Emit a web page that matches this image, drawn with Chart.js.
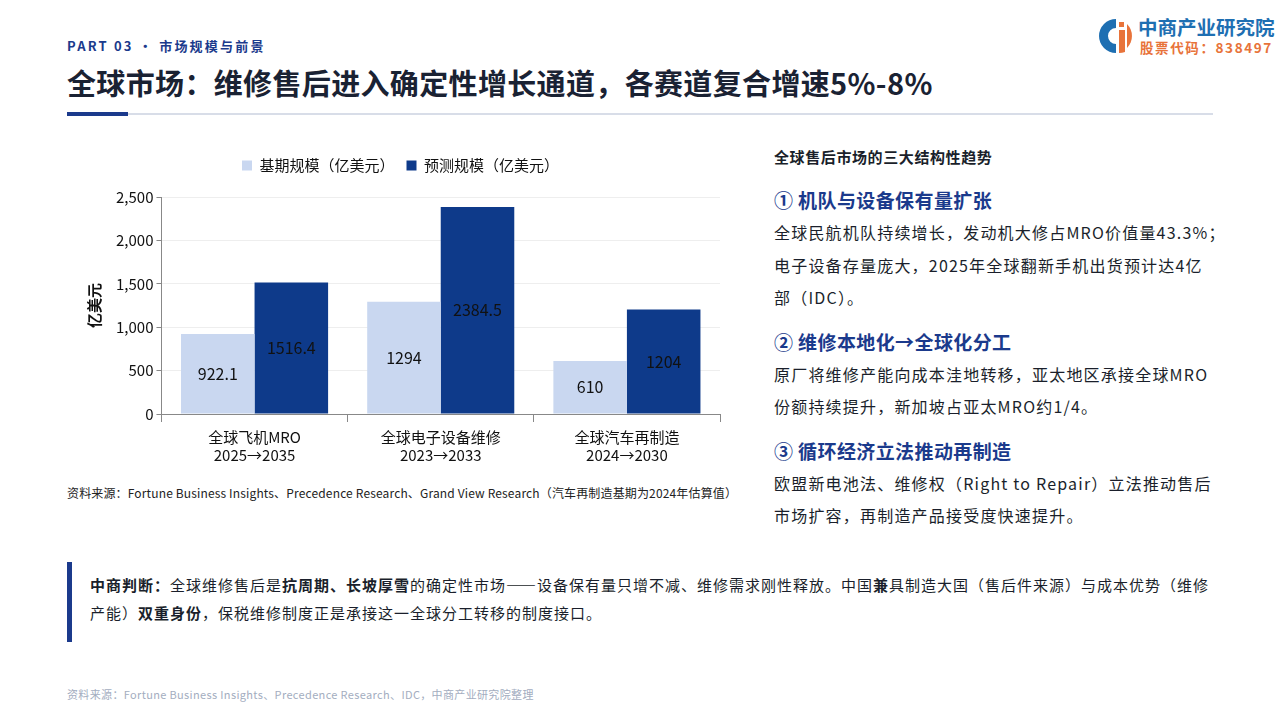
<!DOCTYPE html>
<html lang="zh-CN">
<head>
<meta charset="utf-8">
<script src="https://cdn.jsdelivr.net/npm/chart.js@4.4.1/dist/chart.umd.min.js"></script>
<style>
  html, body { margin: 0; padding: 0; background: #fff; }
  body { width: 1280px; height: 720px; position: relative; overflow: hidden;
         font-family: "Noto Sans CJK SC", "Noto Sans", sans-serif; color: #1a1f2b; }
  .abs { position: absolute; white-space: nowrap; }
  .part { left: 67px; top: 36px; font-size: 13px; font-weight: 700; color: #1b3a8c; letter-spacing: 2.2px; }
  .title { left: 67px; top: 61px; font-size: 29px; font-weight: 700; color: #1a2233; letter-spacing: 0.35px; }
  .rule { left: 67px; top: 113px; width: 1146px; height: 2px; background: #d8dde8; }
  .rule-accent { left: 67px; top: 112px; width: 61px; height: 4px; background: #1b3a8c; }
  .logo-t1 { left: 1138px; top: 14px; font-size: 19.5px; font-weight: 700; color: #1e6fb2; line-height: 26px; }
  .logo-t2 { left: 1140px; top: 38px; font-size: 13.5px; font-weight: 700; color: #e8733a; letter-spacing: 1.6px; line-height: 18px; }
  .chart-box { left: 60px; top: 146px; width: 672px; height: 324px; }
  .chart-src { left: 67px; top: 484px; font-size: 12px; color: #222; letter-spacing: 0.15px; }
  .panel { left: 774px; top: 145px; width: 460px; }
  .panel h4 { margin: 0 0 16px 0; font-size: 15px; font-weight: 700; color: #1a1f2b; letter-spacing: 0.6px; line-height: 24px; }
  .panel h3 { margin: 0; font-size: 19px; font-weight: 700; color: #1b3a8c; line-height: 30px; letter-spacing: 0.4px; }
  .panel p { margin: 1px 0 13px 0; font-size: 16px; line-height: 32.5px; color: #1a1f2b; letter-spacing: 1.2px; }
  .judge { left: 67px; top: 562px; width: 1146px; height: 80px; border-left: 5px solid #1b3a8c; }
  .judge p { margin: 9px 0 0 18px; font-size: 15px; line-height: 28px; color: #1a1f2b; letter-spacing: 1px; }
  .foot { left: 67px; top: 686px; font-size: 11px; color: #a3adc0; letter-spacing: 0.35px; }
</style>
</head>
<body>
<div class="abs part">PART 03 · 市场规模与前景</div>
<div class="abs title">全球市场：维修售后进入确定性增长通道，各赛道复合增速5%-8%</div>
<div class="abs rule"></div>
<div class="abs rule-accent"></div>

<svg class="abs" style="left:1097px;top:17px" width="38" height="38" viewBox="0 0 38 38">
  <path d="M19 2 A17 17 0 1 0 19 36 L19 27 A8 8 0 1 1 19 11 Z" fill="#1e6fb2"/>
  <rect x="22" y="5" width="5" height="5" fill="#e8733a"/>
  <path d="M22 13 H28 V35 A17 17 0 0 1 22 36 Z" fill="#e8733a"/>
  <path d="M30 7 A17 17 0 0 1 30 31 Z" fill="#e8733a"/>
</svg>
<div class="abs logo-t1">中商产业研究院</div>
<div class="abs logo-t2">股票代码：838497</div>

<div class="abs chart-box"><canvas id="c"></canvas></div>
<div class="abs chart-src">资料来源：Fortune Business Insights、Precedence Research、Grand View Research（汽车再制造基期为2024年估算值）</div>

<div class="abs panel">
  <h4>全球售后市场的三大结构性趋势</h4>
  <h3>① 机队与设备保有量扩张</h3>
  <p>全球民航机队持续增长，发动机大修占MRO价值量43.3%；<br>电子设备存量庞大，2025年全球翻新手机出货预计达4亿<br>部（IDC）。</p>
  <h3>② 维修本地化→全球化分工</h3>
  <p>原厂将维修产能向成本洼地转移，亚太地区承接全球MRO<br>份额持续提升，新加坡占亚太MRO约1/4。</p>
  <h3>③ 循环经济立法推动再制造</h3>
  <p>欧盟新电池法、维修权（Right to Repair）立法推动售后<br>市场扩容，再制造产品接受度快速提升。</p>
</div>

<div class="abs judge">
  <p><b>中商判断：</b>全球维修售后是<b>抗周期、长坡厚雪</b>的确定性市场——设备保有量只增不减、维修需求刚性释放。中国<b>兼</b>具制造大国（售后件来源）与成本优势（维修<br>产能）<b>双重身份</b>，保税维修制度正是承接这一全球分工转移的制度接口。</p>
</div>

<div class="abs foot">资料来源：Fortune Business Insights、Precedence Research、IDC，中商产业研究院整理</div>

<script>
// 图表数据
const categories = [
  ['全球飞机MRO', '2025→2035'],
  ['全球电子设备维修', '2023→2033'],
  ['全球汽车再制造', '2024→2030']
];
const baseValues = [922.1, 1294, 610];
const forecastValues = [1516.4, 2384.5, 1204];
const seriesNames = ['基期规模（亿美元）', '预测规模（亿美元）'];
const yTicks = [0, 500, 1000, 1500, 2000, 2500];

const FONT = "'Noto Sans CJK SC', 'Noto Sans', sans-serif";

// 柱内数值标签
const barLabels = {
  id: 'barLabels',
  afterDatasetsDraw(chart) {
    const ctx = chart.ctx;
    ctx.save();
    ctx.font = '16px ' + FONT;
    ctx.fillStyle = '#111';
    ctx.textAlign = 'center';
    ctx.textBaseline = 'middle';
    chart.data.datasets.forEach((ds, i) => {
      chart.getDatasetMeta(i).data.forEach((bar, j) => {
        const y = (bar.y + bar.base) / 2;
        ctx.fillText(String(ds.data[j]), bar.x, y);
      });
    });
    ctx.restore();
  }
};

// 图例与绘图区之间留白
const legendGap = {
  id: 'legendGap',
  beforeInit(chart) {
    const fit = chart.legend.fit;
    chart.legend.fit = function () {
      fit.bind(chart.legend)();
      this.height += 14;
    };
  }
};

new Chart(document.getElementById('c'), {
  type: 'bar',
  data: {
    labels: categories,
    datasets: [
      { label: seriesNames[0], data: baseValues, backgroundColor: '#c9d7f0' },
      { label: seriesNames[1], data: forecastValues, backgroundColor: '#0e3a8a' }
    ]
  },
  options: {
    responsive: true,
    maintainAspectRatio: false,
    animation: false,
    layout: { padding: { left: 21, right: 12, top: 0, bottom: 0 } },
    datasets: { bar: { categoryPercentage: 0.79, barPercentage: 1.0 } },
    plugins: {
      legend: {
        position: 'top',
        labels: {
          boxWidth: 10, boxHeight: 10, padding: 12, color: '#111',
          font: { family: FONT, size: 15 }
        }
      },
      tooltip: { enabled: false }
    },
    scales: {
      x: {
        grid: { display: true, drawOnChartArea: false, drawTicks: true, tickLength: 8, color: '#888', offset: true },
        border: { color: '#888' },
        ticks: { color: '#111', font: { family: FONT, size: 15, lineHeight: 1.2 }, padding: 6 }
      },
      y: {
        min: 0, max: 2500,
        afterBuildTicks: (axis) => { axis.ticks = yTicks.map(v => ({ value: v })); },
        grid: { color: '#eeeeee', tickLength: 5, tickColor: '#888' },
        border: { color: '#888' },
        ticks: {
          color: '#111', font: { family: FONT, size: 15 }, padding: 3,
          callback: (v) => v.toLocaleString('en-US')
        },
        title: {
          display: true, text: '亿美元', color: '#111',
          font: { family: FONT, size: 15, weight: 'bold' }, padding: { bottom: 10 }
        }
      }
    }
  },
  plugins: [barLabels, legendGap]
});
</script>
</body>
</html>
